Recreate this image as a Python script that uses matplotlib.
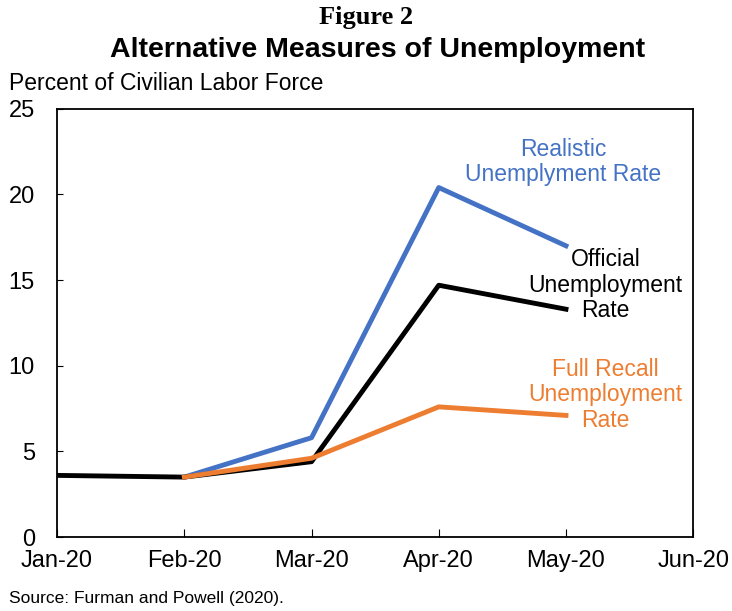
import numpy as np
import matplotlib.pyplot as plt

months = ['Jan-20', 'Feb-20', 'Mar-20', 'Apr-20', 'May-20', 'Jun-20']

official_x = [0, 1, 2, 3, 4]
official = [3.6, 3.5, 4.4, 14.7, 13.3]

realistic_x = [1, 2, 3, 4]
realistic = [3.5, 5.8, 20.4, 17.0]

recall_x = [1, 2, 3, 4]
recall = [3.5, 4.6, 7.6, 7.1]

blue = '#4472C4'
orange = '#ED7D31'

plt.rcParams['font.family'] = ['Liberation Sans', 'DejaVu Sans']

fig = plt.figure(figsize=(7.32, 6.11), dpi=100)
ax = fig.add_axes([0.078, 0.121, 0.869, 0.701])

ax.plot(realistic_x, realistic, color=blue, lw=3.5, zorder=2)
ax.plot(official_x, official, color='black', lw=3.5, zorder=3)
ax.plot(recall_x, recall, color=orange, lw=3.5, zorder=4)

ax.set_xlim(0, 5)
ax.set_ylim(0, 25)
ax.set_xticks(range(len(months)))
ax.set_xticklabels(months, fontsize=17)
ax.set_yticks([0, 5, 10, 15, 20, 25])
ax.set_yticklabels(['0', '5', '10', '15', '20', '25'], fontsize=17)
ax.tick_params(axis='x', direction='in', length=6, pad=9)
ax.tick_params(axis='y', direction='in', length=4, pad=16)
# the zero label sits a touch higher in the original
ax.get_yticklabels()[0].set_y(0.3)
for s in ax.spines.values():
    s.set_linewidth(1.3)

# line labels
ax.text(3.98, 21.9, 'Realistic\nUnemplyment Rate', color=blue, fontsize=16.5,
        ha='center', va='center', linespacing=1.15)
ax.text(4.31, 14.7, 'Official\nUnemployment\nRate', color='black', fontsize=16.5,
        ha='center', va='center', linespacing=1.15)
ax.text(4.31, 8.3, 'Full Recall\nUnemployment\nRate', color=orange, fontsize=16.5,
        ha='center', va='center', linespacing=1.15)

fig.text(0.5, 0.972, 'Figure 2', fontsize=19, fontweight='bold',
         family='Liberation Serif', ha='center', va='center')
fig.text(0.516, 0.918, 'Alternative Measures of Unemployment', fontsize=20.5,
         fontweight='bold', ha='center', va='center')
fig.text(0.012, 0.864, 'Percent of Civilian Labor Force', fontsize=16.5,
         ha='left', va='center')
fig.text(0.012, 0.021, 'Source: Furman and Powell (2020).', fontsize=12.5,
         ha='left', va='center')

plt.savefig('out.png', dpi=100)
